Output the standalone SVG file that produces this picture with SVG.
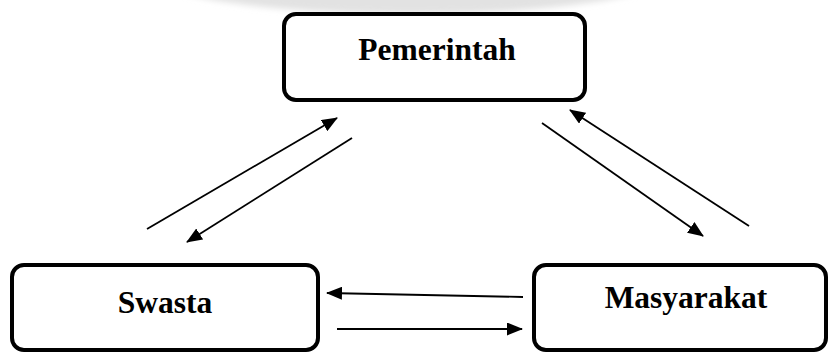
<svg xmlns="http://www.w3.org/2000/svg" width="830" height="352" viewBox="0 0 830 352">
  <defs>
    <style>
      .box { fill: #ffffff; stroke: #000000; stroke-width: 4; }
      .label { font-family: "Liberation Serif", "Times New Roman", serif; font-weight: bold; font-size: 31.5px; fill: #000000; text-anchor: middle; }
      .conn { stroke: #000000; stroke-width: 1.8; fill: none; marker-end: url(#arrow); }
    </style>
    <marker id="arrow" viewBox="0 0 16 13" refX="15" refY="6.5" markerWidth="16" markerHeight="13" markerUnits="userSpaceOnUse" orient="auto">
      <path d="M0,0 L16,6.5 L0,13 Z" fill="#000000"/>
    </marker>
    <filter id="soft" x="-20%" y="-50%" width="140%" height="200%">
      <feGaussianBlur stdDeviation="3"/>
    </filter>
  </defs>

  <rect width="830" height="352" fill="#ffffff"/>
  <ellipse cx="410" cy="-26" rx="258" ry="40" fill="#e2e2e2" filter="url(#soft)"/>

  <g id="pemerintah">
    <rect class="box" x="284" y="14" width="301" height="86" rx="12" ry="12"/>
    <text class="label" x="437" y="60">Pemerintah</text>
  </g>

  <g id="swasta">
    <rect class="box" x="12" y="265" width="306" height="85" rx="12" ry="12"/>
    <text class="label" x="165" y="313">Swasta</text>
  </g>

  <g id="masyarakat">
    <rect class="box" x="534" y="265" width="292" height="85" rx="12" ry="12"/>
    <text class="label" x="686" y="308">Masyarakat</text>
  </g>

  <g id="connectors">
    <line class="conn" x1="147" y1="229" x2="337" y2="118"/>
    <line class="conn" x1="352" y1="138" x2="187" y2="242"/>
    <line class="conn" x1="542" y1="123" x2="703" y2="236"/>
    <line class="conn" x1="749" y1="226" x2="570" y2="110"/>
    <line class="conn" x1="523" y1="297" x2="327" y2="293"/>
    <line class="conn" x1="337" y1="329" x2="522" y2="329"/>
  </g>
</svg>
